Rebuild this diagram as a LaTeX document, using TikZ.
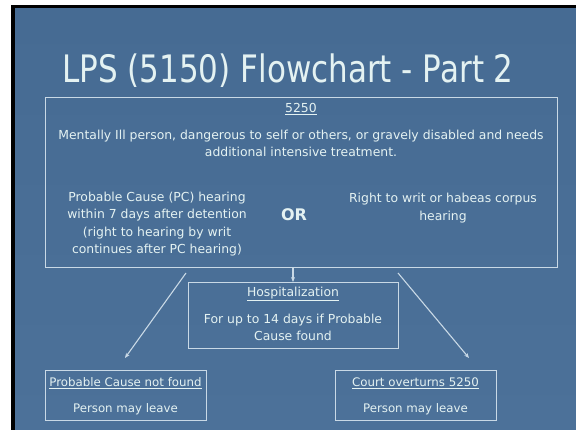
\documentclass[tikz,border=0pt]{standalone}
\usepackage{fontspec}
\usepackage{graphicx}
\setmainfont{DejaVu Sans}
\usetikzlibrary{arrows.meta}
\definecolor{slide}{HTML}{4C7199}
\definecolor{slidetop}{HTML}{466B93}
\definecolor{ink}{HTML}{E4F2F2}
\definecolor{rule}{HTML}{C9D9E6}
\tikzset{
  box/.style={draw=rule, line width=0.9pt, inner sep=0pt},
  txt/.style={text=ink, align=center, inner sep=0pt, font=\fontsize{12.4}{17.3}\selectfont},
  stxt/.style={txt, font=\fontsize{11.8}{17}\selectfont},
  arr/.style={draw=rule, line width=1.1pt, -{Stealth[length=5pt,width=4pt]}},
}
\newcommand{\ul}[1]{\underline{#1}}
\begin{document}
\begin{tikzpicture}[x=1pt,y=-1pt]
\useasboundingbox (0,0) rectangle (576,430);
\fill[white] (0,0) rectangle (576,430);
\fill[black] (11,5) rectangle (576,430);
\shade[top color=slidetop, bottom color=slide] (15,9) rectangle (576,430);
% title
\node[text=ink, inner sep=0pt, font=\fontsize{31}{31}\selectfont, anchor=base] (title) at (288,83) {\scalebox{1}[1.22]{LPS (5150) Flowchart - Part 2}};
% boxes
\node[box, minimum width=512pt, minimum height=170pt] (big) at (301,182) {};
\node[box, minimum width=210pt, minimum height=66pt] (hosp) at (293,315) {};
\node[box, minimum width=161pt, minimum height=50pt] (pcnf) at (125.5,395) {};
\node[box, minimum width=161pt, minimum height=50pt] (court) at (415.5,395) {};
% texts in big box
\node[txt] (h5250) at (301,109) {\ul{5250}};
\node[txt] (desc) at (301,143.5) {Mentally Ill person, dangerous to self or others, or gravely disabled and needs\\additional intensive treatment.};
\node[txt] (pc) at (157,224) {Probable Cause (PC) hearing\\within 7 days after detention\\(right to hearing by writ\\continues after PC hearing)};
\node[txt, font=\fontsize{16}{18}\bfseries\selectfont] (or) at (294,215) {OR};
\node[txt] (writ) at (443,208) {Right to writ or habeas corpus\\hearing};
% hosp texts
\node[txt] (hh) at (293,294) {\ul{Hospitalization}};
\node[txt] (hd) at (293,327.5) {For up to 14 days if Probable\\Cause found};
% bottom texts
\node[stxt] (ph) at (125.5,383) {\ul{Probable Cause not found}};
\node[stxt] (pl) at (125.5,409) {Person may leave};
\node[stxt] (ch) at (415.5,383) {\ul{Court overturns 5250}};
\node[stxt] (cl) at (415.5,409) {Person may leave};
% connectors
\draw[arr, shorten >=-0.5pt] (big.south -| hosp.north) -- (hosp.north);
\coordinate (l1) at (186,273);
\coordinate (l2) at (125,358);
\coordinate (r1) at (398,273);
\coordinate (r2) at (469,358);
\draw[arr] (l1) -- (l2);
\draw[arr] (r1) -- (r2);
\end{tikzpicture}
\end{document}
